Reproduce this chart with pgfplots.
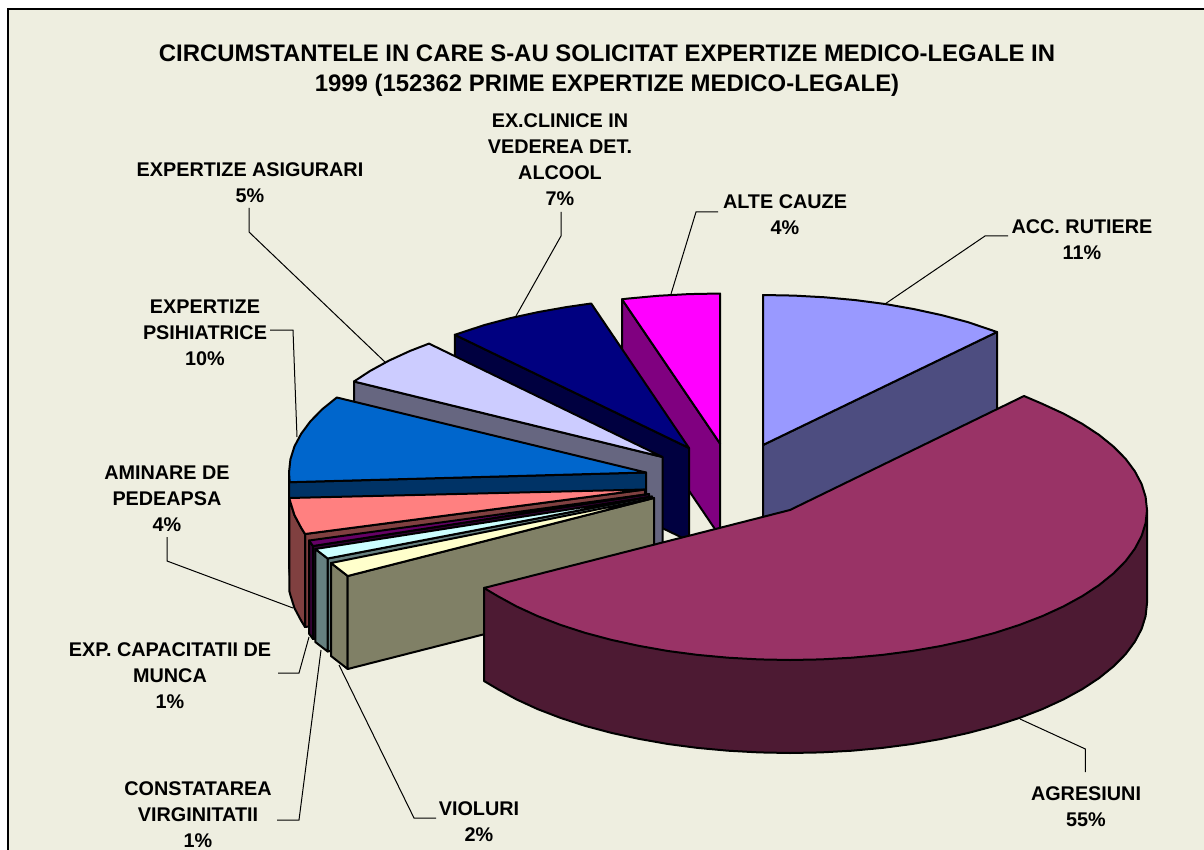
\documentclass[border=0pt]{standalone}
\usepackage{pgfplots}
\pgfplotsset{compat=1.18}
\usepackage{fontspec}
\setmainfont{Liberation Sans}
\definecolor{bgc}{RGB}{238,238,224}
\definecolor{accT}{HTML}{9999FF}\definecolor{accW}{HTML}{4D4D80}
\definecolor{agrT}{HTML}{993366}\definecolor{agrW}{HTML}{4D1A33}
\definecolor{creT}{HTML}{FFFFCC}\definecolor{creW}{HTML}{808066}
\definecolor{cyaT}{HTML}{CCFFFF}\definecolor{cyaW}{HTML}{668080}
\definecolor{purT}{HTML}{660066}\definecolor{purW}{HTML}{330033}
\definecolor{pinT}{HTML}{FF8080}\definecolor{pinW}{HTML}{804040}
\definecolor{bluT}{HTML}{0066CC}\definecolor{bluW}{HTML}{003366}
\definecolor{lavT}{HTML}{CCCCFF}\definecolor{lavW}{HTML}{666680}
\definecolor{navT}{HTML}{000080}\definecolor{navW}{HTML}{000040}
\definecolor{magT}{HTML}{FF00FF}\definecolor{magW}{HTML}{800080}
\begin{document}
\begin{tikzpicture}[
  lab/.style={font=\fontsize{19.8}{26}\selectfont\bfseries,align=center,anchor=center,text=black,inner sep=0pt},
  ttl/.style={font=\fontsize{23.9}{30}\selectfont\bfseries,align=center,anchor=center,text=black,inner sep=0pt}]
\begin{axis}[x=1pt,y=1pt,xmin=0,xmax=1204,ymin=0,ymax=850,y dir=reverse,hide axis,clip=true,
  pie/.style={draw=black,line width=2pt,line join=round,mark=none},
  lead/.style={draw=black,line width=1pt,mark=none,fill=none}]
% page and chart area
\addplot[draw=none,fill=white,mark=none] coordinates {(0,0)(1204,0)(1204,850)(0,850)} -- cycle;
\addplot[fill=bgc,draw=black,line width=2pt,mark=none] coordinates {(7.5,9.5)(1214,9.5)(1214,860)(7.5,860)} -- cycle;
% ACC. RUTIERE
\addplot[pie,fill=accW] coordinates {(763,445)(997,332)(997,425)(763,538)} -- cycle;
\addplot[pie,fill=accT] coordinates {(763,445)(763,295)(794.1,295.6)(825,297.3)(855.4,300.1)(885.1,304)(913.9,309.1)(941.5,315.1)(967.8,322.1)(997,332)} -- cycle;
% ALTE CAUZE
\addplot[pie,fill=magW] coordinates {(622,299.3)(720,443.5)(720,536.5)(622,392)} -- cycle;
\addplot[pie,fill=magT] coordinates {(720,443.5)(720,293.5)(688.9,294.1)(658,295.8)(627.6,298.6)(622,299.3)} -- cycle;
% EX.CLINICE
\addplot[pie,fill=navW] coordinates {(454.8,334.8)(689,448)(689,541)(454.8,427.8)} -- cycle;
\addplot[pie,fill=navT] coordinates {(689,448)(591.2,303.5)(566.9,307)(538.1,312.1)(510.5,318.1)(484.2,325.1)(454.8,334.8)} -- cycle;
% EXPERTIZE ASIGURARI
\addplot[pie,fill=lavW] coordinates {(354,381.5)(662.5,457)(662.5,550)(354,474.5)} -- cycle;
\addplot[pie,fill=lavT] coordinates {(662.5,457)(429,343.6)(410.1,350.9)(389,360.6)(370,371)(354,381.5)} -- cycle;
% EXPERTIZE PSIHIATRICE
\addplot[pie,fill=bluW] coordinates {(289,472.5)(289.7,482.2)(646,472.5)(646,565.5)(289.7,575.2)(289,565.5)} -- cycle;
\addplot[pie,fill=bluT] coordinates {(646,472.5)(336.8,397.5)(322.4,409.1)(310.5,421.2)(301.2,433.7)(294.4,446.5)(290.4,459.4)(289,472.5)(289.7,482.2)} -- cycle;
% AMINARE DE PEDEAPSA
\addplot[pie,fill=pinW] coordinates {(305,534)(645,489.5)(645,582.5)(305,627)} -- cycle;
\addplot[pie,fill=pinW] coordinates {(289.3,498)(290.4,502.1)(294.4,515)(301.2,527.8)(305,534)(305,627)(301.2,620.8)(294.4,608)(290.4,595.1)(289.3,591)} -- cycle;
\addplot[pie,fill=pinT] coordinates {(645,489.5)(289.3,498)(290.4,502.1)(294.4,515)(301.2,527.8)(305,534)} -- cycle;
% EXP. CAPACITATII DE MUNCA
\addplot[pie,fill=purW] coordinates {(309,540.5)(313,546)(313,639)(309,633.5)} -- cycle;
\addplot[pie,fill=purW] coordinates {(313,546)(649,494)(649,587)(313,639)} -- cycle;
\addplot[pie,fill=purT] coordinates {(649,494)(309,540.5)(313,546)} -- cycle;
% CONSTATAREA VIRGINITATII
\addplot[pie,fill=cyaW] coordinates {(327.7,558.5)(652,496.5)(652,589.5)(327.7,651.5)} -- cycle;
\addplot[pie,fill=cyaW] coordinates {(315.3,549)(327.7,558.5)(327.7,651.5)(315.3,642)} -- cycle;
\addplot[pie,fill=cyaT] coordinates {(652,496.5)(315.3,549)(327.7,558.5)} -- cycle;
% VIOLURI
\addplot[pie,fill=creW] coordinates {(331,563)(347.7,576)(347.7,669)(331,656)} -- cycle;
\addplot[pie,fill=creW] coordinates {(347.7,576)(654,498)(654,591)(347.7,669)} -- cycle;
\addplot[pie,fill=creT] coordinates {(654,498)(331,563)(347.7,576)} -- cycle;
% AGRESIUNI
\addplot[pie,fill=agrW] coordinates {(1147,510)(1147,603)(1145.6,616.1)(1141.6,629)(1134.8,641.8)(1125.5,654.3)(1113.5,666.4)(1099.2,678)(1082.5,689)(1063.5,699.4)(1042.4,709.1)(1019.5,717.9)(994.8,725.9)(968.5,732.9)(940.9,739)(912.1,744)(882.4,747.9)(852,750.7)(821.1,752.4)(790,753)(758.9,752.4)(728,750.7)(697.6,747.9)(667.9,744)(639.1,738.9)(611.5,732.9)(585.2,725.9)(560.5,717.9)(537.6,709.1)(516.5,699.4)(497.5,689)(484,681)(484,588)} -- cycle;
\addplot[pie,fill=agrT] coordinates {(790,510)(1024,396)(1042.4,403.9)(1063.5,413.6)(1082.5,424)(1099.2,435)(1113.5,446.6)(1125.5,458.7)(1134.8,471.2)(1141.6,484)(1145.6,496.9)(1147,510)(1145.6,523.1)(1141.6,536)(1134.8,548.8)(1125.5,561.3)(1113.5,573.4)(1099.2,585)(1082.5,596)(1063.5,606.4)(1042.4,616.1)(1019.5,624.9)(994.8,632.9)(968.5,639.9)(940.9,646)(912.1,651)(882.4,654.9)(852,657.7)(821.1,659.4)(790,660)(758.9,659.4)(728,657.7)(697.6,654.9)(667.9,651)(639.1,645.9)(611.5,639.9)(585.2,632.9)(560.5,624.9)(537.6,616.1)(516.5,606.4)(497.5,596)(484,588)} -- cycle;
% leader lines
\addplot[lead] coordinates {(885,304)(985,236)(1008,236)};
\addplot[lead] coordinates {(671,294)(696,212)(718,212)};
\addplot[lead] coordinates {(516,316)(561,236)(561,212)};
\addplot[lead] coordinates {(385,362)(249,232)(249,208)};
\addplot[lead] coordinates {(297,437)(293,330)(270,330)};
\addplot[lead] coordinates {(293,608)(167,561)(167,537)};
\addplot[lead] coordinates {(309,637)(299,673)(278,673)};
\addplot[lead] coordinates {(321,650)(299,820)(277,820)};
\addplot[lead] coordinates {(339,665)(414,818)(436,818)};
\addplot[lead] coordinates {(1020,719)(1085.4,749)(1085.4,772)};
% texts
\node[ttl] at (axis cs:607,71) {CIRCUMSTANTELE IN CARE S-AU SOLICITAT EXPERTIZE MEDICO-LEGALE IN\\1999 (152362 PRIME EXPERTIZE MEDICO-LEGALE)};
\node[lab] at (axis cs:560,160) {EX.CLINICE IN\\VEDEREA DET.\\ALCOOL\\7\%};
\node[lab] at (axis cs:250,183) {EXPERTIZE ASIGURARI\\5\%};
\node[lab] at (axis cs:785,215) {ALTE CAUZE\\4\%};
\node[lab] at (axis cs:1082,240) {ACC. RUTIERE\\11\%};
\node[lab] at (axis cs:205,333) {EXPERTIZE\\PSIHIATRICE\\10\%};
\node[lab] at (axis cs:167,499) {AMINARE DE\\PEDEAPSA\\4\%};
\node[lab] at (axis cs:170,676) {EXP. CAPACITATII DE\\MUNCA\\1\%};
\node[lab] at (axis cs:198,815) {CONSTATAREA\\VIRGINITATII\\1\%};
\node[lab] at (axis cs:479,822) {VIOLURI\\2\%};
\node[lab] at (axis cs:1086,807) {AGRESIUNI\\55\%};
\end{axis}
\end{tikzpicture}
\end{document}
